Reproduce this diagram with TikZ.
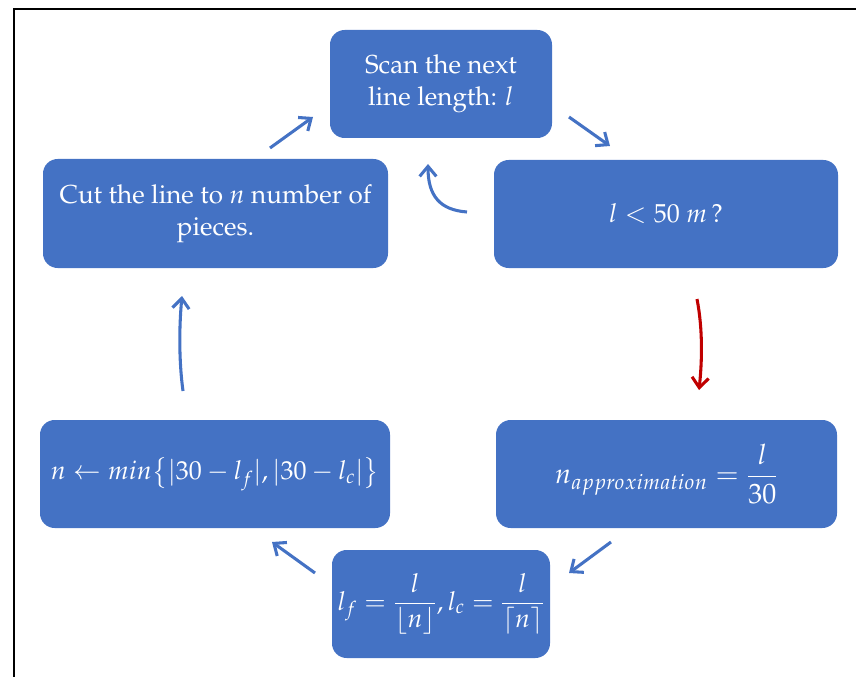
\documentclass[tikz,border=0pt]{standalone}
\usepackage[T1]{fontenc}
\usepackage{mathpazo}
\usepackage{amsmath}
\usetikzlibrary{arrows.meta}
\definecolor{boxblue}{HTML}{4472C4}
\definecolor{arrred}{HTML}{C00000}
\tikzset{
  stepbox/.style={draw=none, fill=boxblue, rounded corners=11pt, text=white,
    align=center, font=\fontsize{19.5}{24}\selectfont, inner sep=0pt},
  flowarrow/.style={draw=boxblue, line width=2.3pt,
    -{Straight Barb[length=7.5pt,width=12.5pt,line width=2.3pt]}},
  redarrow/.style={flowarrow, draw=arrred},
  frameline/.style={draw=black, line width=1.6pt}
}
\begin{document}
\begin{tikzpicture}[x=0.75pt,y=-0.75pt]
\useasboundingbox (0,0) rectangle (856,677);
\draw[frameline] (14,677) -- (14,9) -- (856,9);

\node[stepbox, minimum width=166.5pt, minimum height=81pt] (scan) at (441,84)
  {Scan the next\\ line length: $l$};
\node[stepbox, minimum width=258.75pt, minimum height=81.75pt] (cut) at (215.5,213.5)
  {Cut the line to $n$ number of\\ pieces.};
\node[stepbox, minimum width=258pt, minimum height=81pt] (cond) at (666,214)
  {$l < 50\ m$\,?};
\node[stepbox, minimum width=255.75pt, minimum height=81pt, font=\fontsize{21}{24}\selectfont] (approx) at (666.5,474)
  {$n_{approximation} = \dfrac{l}{30}$};
\node[stepbox, minimum width=262.5pt, minimum height=81pt] (minn) at (215,474)
  {$n \leftarrow min\bigl\{|30 - l_f|, |30 - l_c|\bigr\}$};
\node[stepbox, minimum width=163.5pt, minimum height=81pt] (lfc) at (441,604)
  {$l_f = \dfrac{l}{\lfloor n\rfloor}, l_c = \dfrac{l}{\lceil n\rceil}$};

% arrow end points
\coordinate (a1s) at (270,148); \coordinate (a1e) at (313,117);
\coordinate (a2s) at (569,117); \coordinate (a2e) at (610,146);
\coordinate (a3s) at (467,212); \coordinate (a3e) at (428,164);
\coordinate (a4s) at (697,299); \coordinate (a4e) at (699,390);
\coordinate (a5s) at (611,542); \coordinate (a5e) at (569,573);
\coordinate (a6s) at (315,573); \coordinate (a6e) at (272,542);
\coordinate (a7s) at (183,391); \coordinate (a7e) at (182,296);

\draw[flowarrow] (a1s) -- (a1e);
\draw[flowarrow] (a2s) -- (a2e);
\draw[flowarrow] (a3s) .. controls (440,210) and (428,196) .. (a3e);
\draw[redarrow] (a4s) .. controls (703,330) and (702,362) .. (a4e);
\draw[flowarrow] (a5s) -- (a5e);
\draw[flowarrow] (a6s) -- (a6e);
\draw[flowarrow] (a7s) .. controls (179,362) and (179,328) .. (a7e);
\end{tikzpicture}
\end{document}
